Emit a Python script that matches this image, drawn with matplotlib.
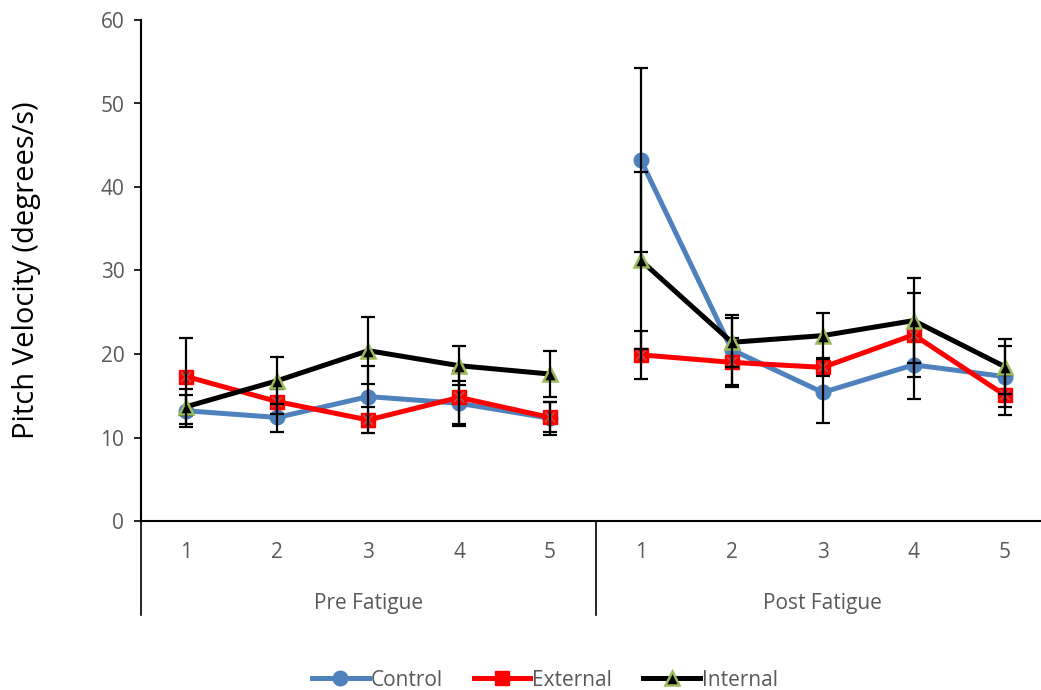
import numpy as np
import matplotlib.pyplot as plt
from matplotlib.lines import Line2D

plt.rcParams['font.family'] = ['Open Sans', 'DejaVu Sans']

trials = ["1", "2", "3", "4", "5", "1", "2", "3", "4", "5"]
groups = ["Pre Fatigue", "Post Fatigue"]

control = [13.2, 12.4, 14.9, 14.1, 12.3, 43.2, 20.5, 15.4, 18.7, 17.3]
control_err = [1.9, 1.8, 3.7, 2.7, 2.0, 11.0, 4.2, 3.7, 4.1, 3.7]

external = [17.3, 14.3, 12.1, 14.8, 12.4, 19.9, 19.0, 18.4, 22.3, 15.1]
external_err = [4.6, 1.5, 1.6, 3.2, 1.8, 2.9, 2.9, 1.0, 5.0, 2.4]

internal = [13.7, 16.8, 20.4, 18.6, 17.6, 31.2, 21.4, 22.2, 24.0, 18.5]
internal_err = [2.1, 2.8, 4.0, 2.3, 2.7, 10.6, 2.9, 2.7, 5.1, 3.3]

gray = "#595959"
fs = 15

fig = plt.figure(figsize=(10.41, 6.9), dpi=100)
ax = fig.add_axes([141 / 1041, 169 / 690, 909 / 1041, 501 / 690])

x = np.arange(len(trials))
pre = slice(0, 5)
post = slice(5, 10)

def draw(vals, errs, color, zo, **mk):
    vals = np.array(vals)
    errs = np.array(errs)
    for seg in (pre, post):
        ax.errorbar(x[seg], vals[seg], yerr=errs[seg], fmt="none", ecolor="black",
                    elinewidth=1.6, capsize=5, capthick=1.6, zorder=zo + 0.5)
        ax.plot(x[seg], vals[seg], color=color, lw=3.6, zorder=zo, **mk)

draw(control, control_err, "#4F81BD", 3, marker="o", ms=10.5,
     mfc="#4F81BD", mec="#4F81BD")
draw(external, external_err, "#FF0000", 4, marker="s", ms=9.5,
     mfc="#FF0000", mec="#FF0000")
# the little x drawn on the square markers
ax.plot(x, external, ls="none", marker="x", ms=7, mew=1.2, color="#C0504D", zorder=4.2)
draw(internal, internal_err, "black", 5, marker="^", ms=9.5,
     mfc="black", mec="#9BBB59", mew=1.8)

ax.set_xlim(-0.5, 9.5)
ax.set_ylim(0, 60)
ax.set_yticks(range(0, 61, 10))
ax.set_xticks(x)
ax.set_xticklabels(trials)
ax.tick_params(axis="x", length=0, pad=15, labelsize=fs, labelcolor=gray)
ax.tick_params(axis="y", direction="out", length=5, width=1.2, pad=7,
               labelsize=fs, labelcolor=gray)
for s in ("top", "right"):
    ax.spines[s].set_visible(False)
for s in ("left", "bottom"):
    ax.spines[s].set_linewidth(1.5)
    ax.spines[s].set_color("black")

ax.set_ylabel("Pitch Velocity (degrees/s)", fontsize=21, labelpad=43)

# multi-level category axis: group labels and separators
trans = ax.get_xaxis_transform()
low = -(615 - 521) / 501
for xs in (-0.5, 4.5):
    ax.add_line(Line2D([xs, xs], [0, low], transform=trans, color="black",
                       lw=1.2, clip_on=False))
for i, g in enumerate(groups):
    ax.text(2 + 5 * i, -82 / 501, g, transform=trans, ha="center", va="center",
            fontsize=fs, color=gray)

handles = [
    Line2D([], [], color="#4F81BD", lw=3.6, marker="o", ms=10.5, mfc="#4F81BD", mec="#4F81BD"),
    Line2D([], [], color="#FF0000", lw=3.6, marker="s", ms=9.5, mfc="#FF0000", mec="#FF0000"),
    Line2D([], [], color="black", lw=3.6, marker="^", ms=9.5, mfc="black", mec="#9BBB59", mew=1.8),
]
leg = fig.legend(handles, ["Control", "External", "Internal"], loc="center",
                 bbox_to_anchor=(545 / 1041, 1 - 680 / 690), ncol=3, frameon=False,
                 fontsize=fs, handlelength=2.7, handletextpad=0.1, columnspacing=1.5)
for t in leg.get_texts():
    t.set_color(gray)

fig.savefig("out.png", dpi=100)
